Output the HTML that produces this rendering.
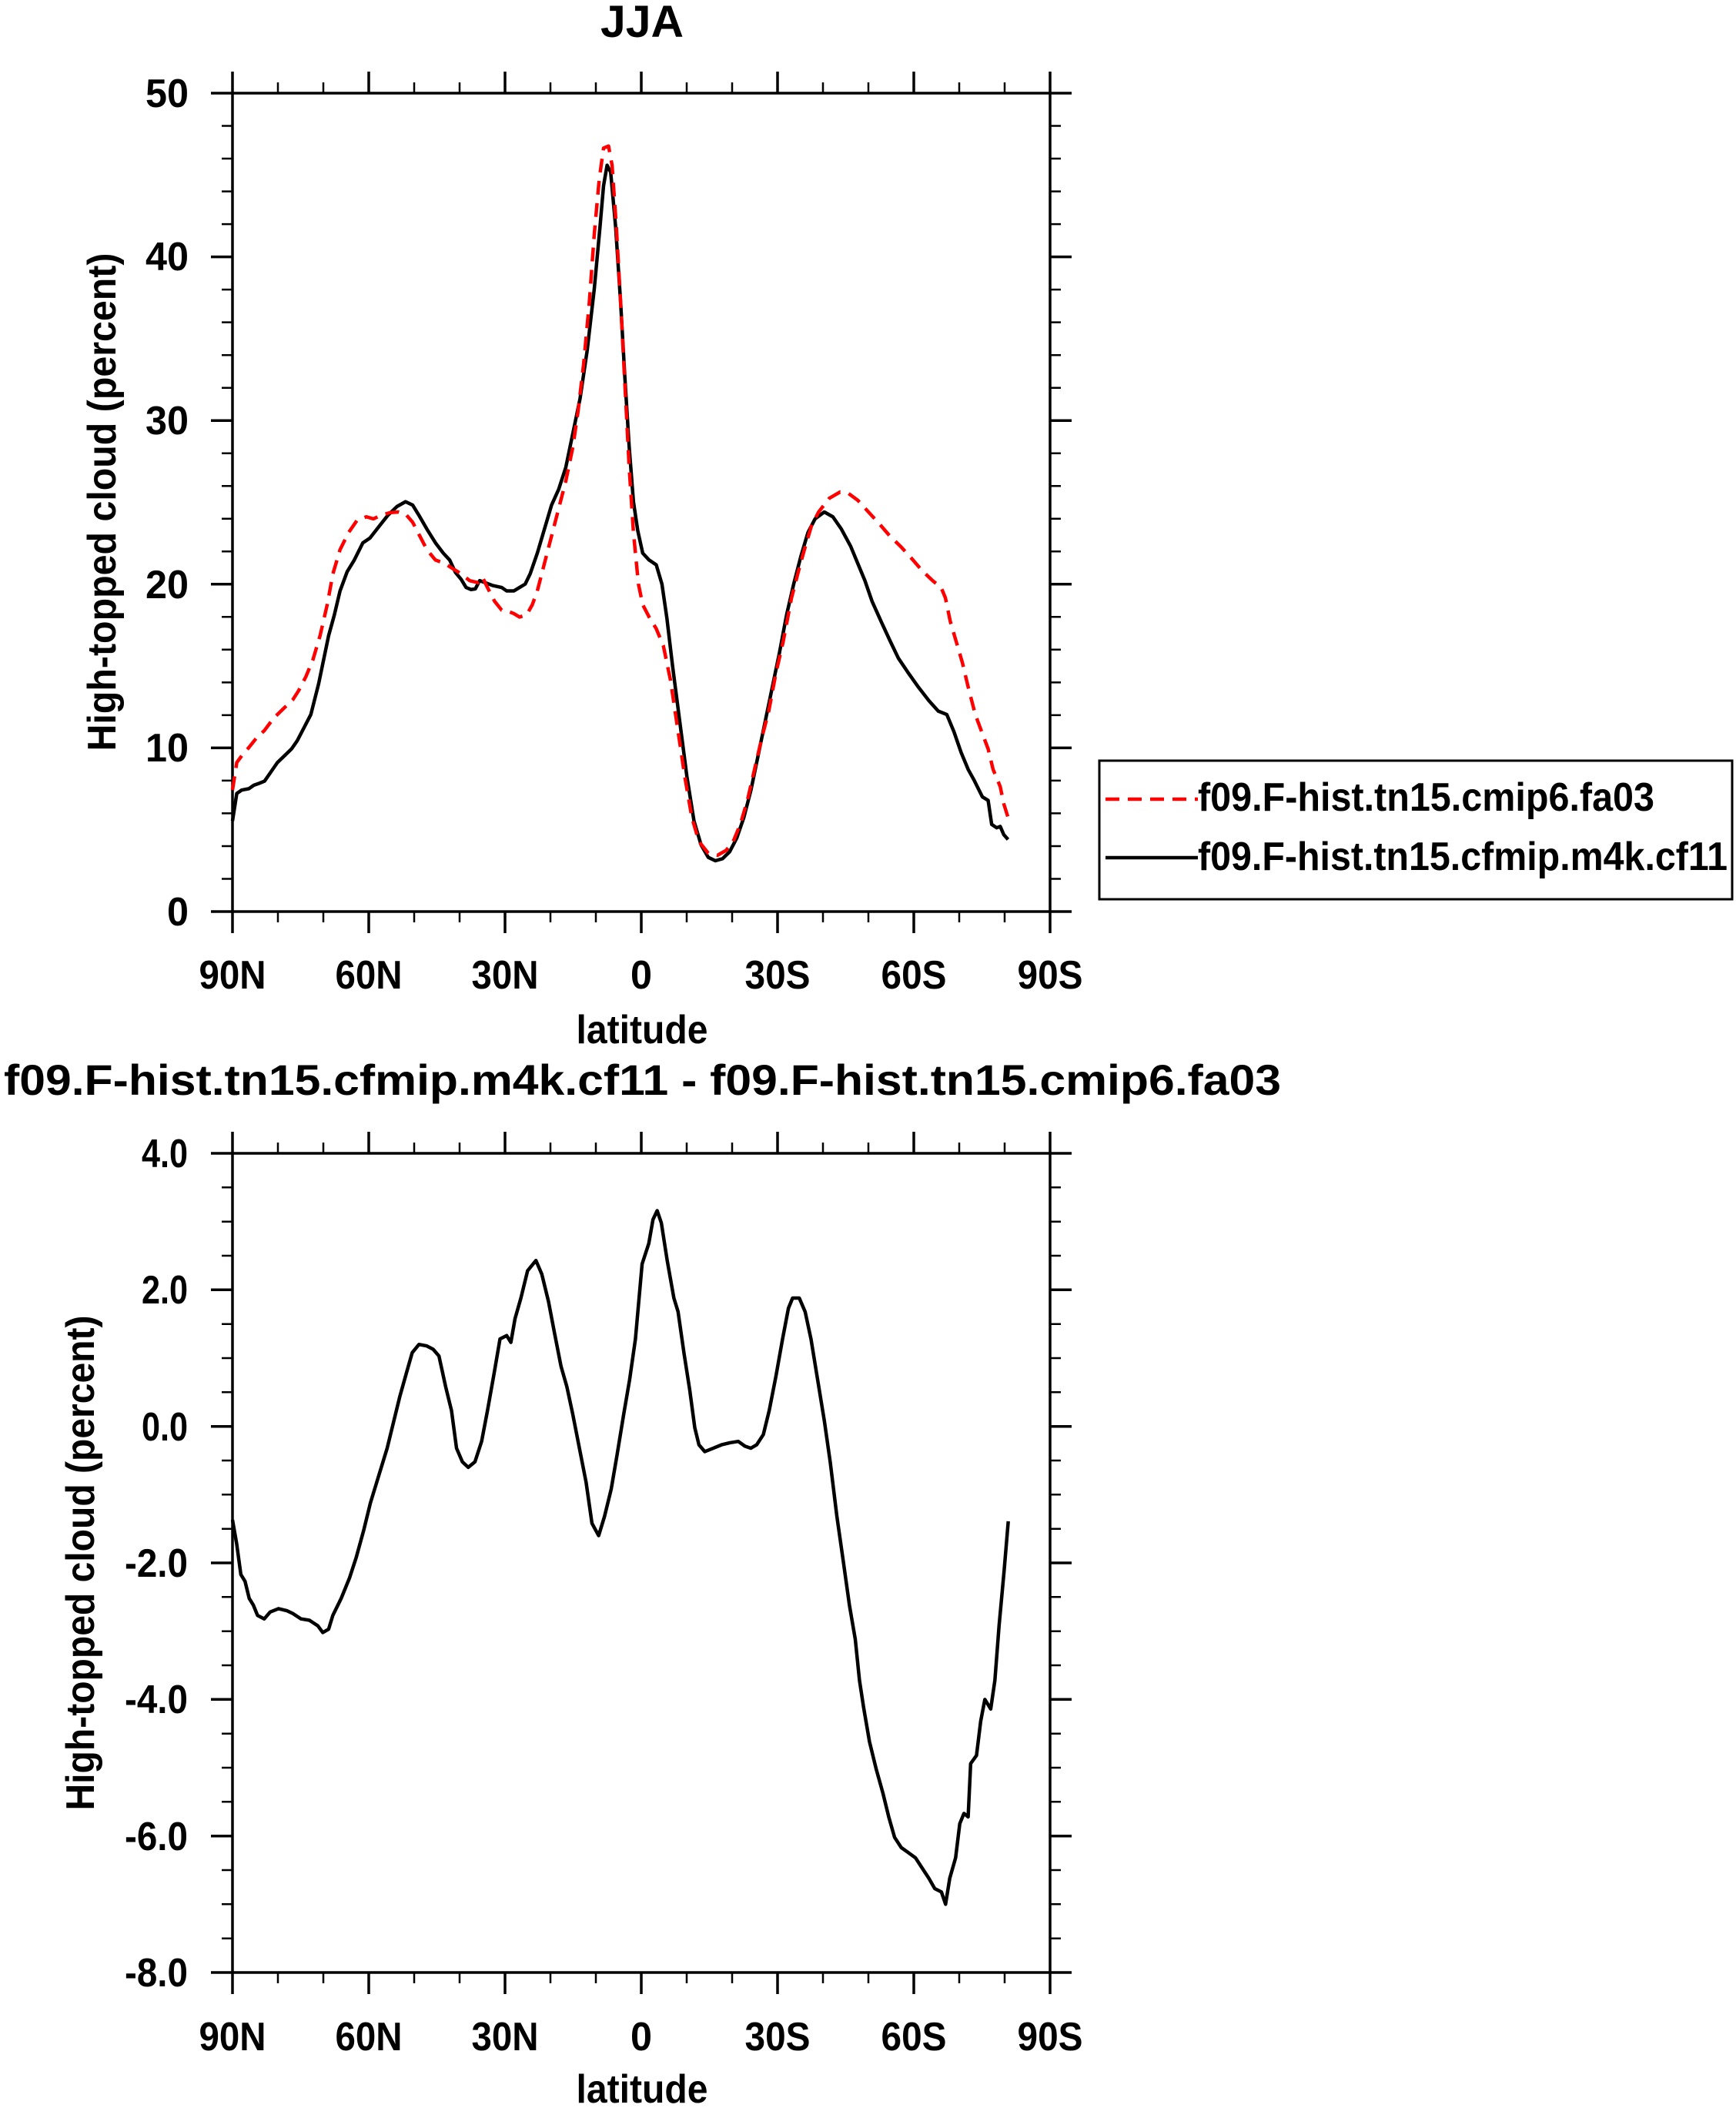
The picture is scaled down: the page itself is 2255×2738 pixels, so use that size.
<!DOCTYPE html>
<html><head><meta charset="utf-8"><style>html,body{margin:0;padding:0;background:#fff}svg{display:block}text{font-family:"Liberation Sans",sans-serif;font-weight:bold;fill:#000}</style></head>
<body>
<svg width="2255" height="2738" viewBox="0 0 2255 2738" xmlns="http://www.w3.org/2000/svg">
<text x="834" y="48" font-size="58" text-anchor="middle" textLength="108" lengthAdjust="spacingAndGlyphs">JJA</text>
<g stroke="#000" stroke-width="3.5" fill="none">
<rect x="302" y="121" width="1062" height="1063"/>
<path d="M302 1184h-28M302 971.4h-28M302 758.8h-28M302 546.2h-28M302 333.6h-28M302 121h-28M1364 1184h28M1364 971.4h28M1364 758.8h28M1364 546.2h28M1364 333.6h28M1364 121h28M302 1184v28M479 1184v28M656 1184v28M833 1184v28M1010 1184v28M1187 1184v28M1364 1184v28M302 121v-28M479 121v-28M656 121v-28M833 121v-28M1010 121v-28M1187 121v-28M1364 121v-28"/>
</g>
<g stroke="#000" stroke-width="2.5" fill="none">
<path d="M302 163.5h-14M302 206h-14M302 248.6h-14M302 291.1h-14M302 376.1h-14M302 418.6h-14M302 461.2h-14M302 503.7h-14M302 588.7h-14M302 631.2h-14M302 673.8h-14M302 716.3h-14M302 801.3h-14M302 843.8h-14M302 886.4h-14M302 928.9h-14M302 1013.9h-14M302 1056.4h-14M302 1099h-14M302 1141.5h-14"/>
<path d="M1364 163.5h14M1364 206h14M1364 248.6h14M1364 291.1h14M1364 376.1h14M1364 418.6h14M1364 461.2h14M1364 503.7h14M1364 588.7h14M1364 631.2h14M1364 673.8h14M1364 716.3h14M1364 801.3h14M1364 843.8h14M1364 886.4h14M1364 928.9h14M1364 1013.9h14M1364 1056.4h14M1364 1099h14M1364 1141.5h14"/>
<path d="M361 1184v14M420 1184v14M538 1184v14M597 1184v14M715 1184v14M774 1184v14M892 1184v14M951 1184v14M1069 1184v14M1128 1184v14M1246 1184v14M1305 1184v14M361 121v-14M420 121v-14M538 121v-14M597 121v-14M715 121v-14M774 121v-14M892 121v-14M951 121v-14M1069 121v-14M1128 121v-14M1246 121v-14M1305 121v-14"/>
</g>
<g font-size="52" text-anchor="end">
<text x="245" y="139" textLength="56" lengthAdjust="spacingAndGlyphs">50</text><text x="245" y="351" textLength="56" lengthAdjust="spacingAndGlyphs">40</text><text x="245" y="564" textLength="56" lengthAdjust="spacingAndGlyphs">30</text><text x="245" y="777" textLength="56" lengthAdjust="spacingAndGlyphs">20</text><text x="245" y="989" textLength="56" lengthAdjust="spacingAndGlyphs">10</text><text x="245" y="1202" textLength="28" lengthAdjust="spacingAndGlyphs">0</text>
</g>
<g font-size="52" text-anchor="middle">
<text x="302" y="1284" textLength="87" lengthAdjust="spacingAndGlyphs">90N</text><text x="479" y="1284" textLength="87" lengthAdjust="spacingAndGlyphs">60N</text><text x="656" y="1284" textLength="87" lengthAdjust="spacingAndGlyphs">30N</text><text x="833" y="1284" textLength="28" lengthAdjust="spacingAndGlyphs">0</text><text x="1010" y="1284" textLength="85" lengthAdjust="spacingAndGlyphs">30S</text><text x="1187" y="1284" textLength="85" lengthAdjust="spacingAndGlyphs">60S</text><text x="1364" y="1284" textLength="85" lengthAdjust="spacingAndGlyphs">90S</text>
<text x="834" y="1355" textLength="171" lengthAdjust="spacingAndGlyphs">latitude</text>
</g>
<text transform="translate(150,652) rotate(-90)" font-size="52" text-anchor="middle" textLength="647" lengthAdjust="spacingAndGlyphs">High-topped cloud (percent)</text>
<g transform="matrix(0.92509 0 0 0.89178 -0.5 0.61)" fill="none" stroke-width="4.5" stroke-linejoin="round">
<polyline vector-effect="non-scaling-stroke" stroke="#000" points="327,1195 333,1155 340,1150 350,1148 357,1143 365,1140 372,1137 380,1125 390,1110 400,1100 410,1090 418,1078 428,1058 437,1040 448,995 455,960 462,925 470,895 478,860 488,832 498,815 510,790 520,783 532,767 545,750 558,737 570,730 580,735 590,752 600,770 612,790 623,805 632,815 640,833 648,843 655,855 662,858 668,857 674,845 682,848 692,852 705,855 712,860 722,860 730,855 738,850 745,835 755,805 765,770 775,735 785,712 795,680 805,630 815,580 825,510 835,420 843,330 848,270 853,240 858,250 865,330 872,440 878,550 884,650 890,730 896,772 903,805 912,815 922,822 930,850 937,900 945,970 955,1050 965,1130 975,1195 985,1230 995,1248 1005,1253 1015,1250 1025,1240 1035,1220 1045,1190 1055,1150 1065,1100 1075,1050 1085,1000 1095,950 1105,895 1115,850 1125,810 1135,775 1145,755 1158,745 1170,752 1182,770 1195,795 1205,820 1215,845 1225,875 1238,905 1250,932 1262,958 1275,978 1290,1000 1305,1020 1318,1035 1330,1040 1340,1065 1350,1095 1360,1120 1368,1135 1380,1160 1388,1165 1393,1200 1400,1205 1405,1203 1410,1215 1416,1222"/>
<polyline vector-effect="non-scaling-stroke" stroke="#f00" stroke-dasharray="18 11" points="327,1150 333,1110 340,1100 350,1088 360,1075 372,1063 385,1045 400,1030 412,1018 420,1005 430,985 440,960 450,925 460,880 468,835 478,800 490,775 502,757 515,752 525,755 535,750 548,746 560,745 570,748 580,760 590,780 600,800 612,815 625,820 637,828 648,835 660,845 672,848 678,840 685,855 695,875 705,888 715,890 722,893 730,898 740,895 748,880 755,860 765,820 775,780 785,740 795,700 805,650 812,600 820,530 828,440 835,340 842,260 848,215 855,212 860,240 866,330 872,440 878,560 884,680 890,775 897,850 903,880 912,898 922,915 932,940 942,990 952,1060 962,1130 972,1190 982,1225 995,1242 1008,1245 1020,1238 1030,1225 1040,1200 1050,1165 1060,1120 1070,1075 1080,1035 1090,980 1100,935 1112,870 1122,830 1130,800 1140,765 1150,745 1165,725 1180,716 1192,718 1205,728 1220,745 1235,762 1250,780 1265,795 1280,812 1295,830 1310,845 1322,855 1328,870 1335,905 1345,940 1352,965 1360,1000 1370,1040 1380,1068 1388,1090 1395,1120 1405,1145 1410,1170 1416,1190"/>
</g>
<rect x="1428" y="988" width="822" height="180" fill="none" stroke="#000" stroke-width="3"/>
<line x1="1436" y1="1038" x2="1556" y2="1038" stroke="#f00" stroke-width="4.5" stroke-dasharray="18 11"/>
<line x1="1436" y1="1114" x2="1556" y2="1114" stroke="#000" stroke-width="4.5"/>
<text x="1556" y="1053" font-size="52" textLength="593" lengthAdjust="spacingAndGlyphs">f09.F-hist.tn15.cmip6.fa03</text>
<text x="1556" y="1130" font-size="52" textLength="688" lengthAdjust="spacingAndGlyphs">f09.F-hist.tn15.cfmip.m4k.cf11</text>
<text x="5" y="1422" font-size="56" textLength="1659" lengthAdjust="spacingAndGlyphs">f09.F-hist.tn15.cfmip.m4k.cf11 - f09.F-hist.tn15.cmip6.fa03</text>
<g stroke="#000" stroke-width="3.5" fill="none">
<rect x="302" y="1498" width="1062" height="1064"/>
<path d="M302 1498h-28M302 1675.3h-28M302 1852.7h-28M302 2030h-28M302 2207.3h-28M302 2384.7h-28M302 2562h-28M1364 1498h28M1364 1675.3h28M1364 1852.7h28M1364 2030h28M1364 2207.3h28M1364 2384.7h28M1364 2562h28M302 2562v28M479 2562v28M656 2562v28M833 2562v28M1010 2562v28M1187 2562v28M1364 2562v28M302 1498v-28M479 1498v-28M656 1498v-28M833 1498v-28M1010 1498v-28M1187 1498v-28M1364 1498v-28"/>
</g>
<g stroke="#000" stroke-width="2.5" fill="none">
<path d="M302 1542.3h-14M302 1586.7h-14M302 1631h-14M302 1719.7h-14M302 1764h-14M302 1808.3h-14M302 1897h-14M302 1941.3h-14M302 1985.7h-14M302 2074.3h-14M302 2118.7h-14M302 2163h-14M302 2251.7h-14M302 2296h-14M302 2340.3h-14M302 2429h-14M302 2473.3h-14M302 2517.7h-14"/>
<path d="M1364 1542.3h14M1364 1586.7h14M1364 1631h14M1364 1719.7h14M1364 1764h14M1364 1808.3h14M1364 1897h14M1364 1941.3h14M1364 1985.7h14M1364 2074.3h14M1364 2118.7h14M1364 2163h14M1364 2251.7h14M1364 2296h14M1364 2340.3h14M1364 2429h14M1364 2473.3h14M1364 2517.7h14"/>
<path d="M361 2562v14M420 2562v14M538 2562v14M597 2562v14M715 2562v14M774 2562v14M892 2562v14M951 2562v14M1069 2562v14M1128 2562v14M1246 2562v14M1305 2562v14M361 1498v-14M420 1498v-14M538 1498v-14M597 1498v-14M715 1498v-14M774 1498v-14M892 1498v-14M951 1498v-14M1069 1498v-14M1128 1498v-14M1246 1498v-14M1305 1498v-14"/>
</g>
<g font-size="52" text-anchor="end">
<text x="244" y="1516" textLength="60" lengthAdjust="spacingAndGlyphs">4.0</text><text x="244" y="1693" textLength="60" lengthAdjust="spacingAndGlyphs">2.0</text><text x="244" y="1871" textLength="60" lengthAdjust="spacingAndGlyphs">0.0</text><text x="244" y="2048" textLength="82" lengthAdjust="spacingAndGlyphs">-2.0</text><text x="244" y="2225" textLength="82" lengthAdjust="spacingAndGlyphs">-4.0</text><text x="244" y="2403" textLength="82" lengthAdjust="spacingAndGlyphs">-6.0</text><text x="244" y="2580" textLength="82" lengthAdjust="spacingAndGlyphs">-8.0</text>
</g>
<g font-size="52" text-anchor="middle">
<text x="302" y="2663" textLength="87" lengthAdjust="spacingAndGlyphs">90N</text><text x="479" y="2663" textLength="87" lengthAdjust="spacingAndGlyphs">60N</text><text x="656" y="2663" textLength="87" lengthAdjust="spacingAndGlyphs">30N</text><text x="833" y="2663" textLength="28" lengthAdjust="spacingAndGlyphs">0</text><text x="1010" y="2663" textLength="85" lengthAdjust="spacingAndGlyphs">30S</text><text x="1187" y="2663" textLength="85" lengthAdjust="spacingAndGlyphs">60S</text><text x="1364" y="2663" textLength="85" lengthAdjust="spacingAndGlyphs">90S</text>
<text x="834" y="2731" textLength="171" lengthAdjust="spacingAndGlyphs">latitude</text>
</g>
<text transform="translate(122,2030) rotate(-90)" font-size="52" text-anchor="middle" textLength="643" lengthAdjust="spacingAndGlyphs">High-topped cloud (percent)</text>
<g transform="matrix(1.08589 0 0 0.88667 -2.05 1349.04)" fill="none" stroke-width="4.5" stroke-linejoin="round">
<polyline vector-effect="non-scaling-stroke" stroke="#000" points="280,705 285,740 290,785 295,795 300,820 305,830 310,845 318,850 325,840 335,835 345,838 352,842 362,850 372,852 382,860 388,870 395,865 400,845 410,820 420,790 428,760 437,720 445,680 455,640 465,600 473,560 480,525 488,490 495,460 503,448 512,450 520,455 527,465 535,510 542,545 548,600 555,620 562,628 570,620 578,590 585,545 593,490 600,440 608,435 613,445 618,410 625,380 633,340 643,325 650,345 658,385 665,430 673,480 680,510 687,550 695,600 703,650 710,710 718,728 725,700 733,660 740,610 748,550 755,500 762,440 770,330 778,300 783,265 788,252 793,270 800,325 808,380 813,400 820,460 827,515 833,570 838,595 845,605 855,600 865,595 875,592 885,590 893,597 900,600 907,595 915,580 922,545 930,495 938,440 945,395 950,380 958,380 965,400 972,440 980,500 988,560 995,620 1003,700 1010,760 1018,830 1025,880 1030,940 1035,980 1042,1030 1050,1070 1058,1105 1065,1140 1072,1170 1080,1185 1088,1192 1097,1200 1105,1215 1113,1230 1120,1245 1128,1250 1133,1268 1138,1230 1145,1200 1150,1150 1155,1135 1160,1140 1163,1062 1170,1050 1175,1000 1180,968 1187,982 1192,940 1197,860 1203,780 1208,707"/>
</g>
</svg>
</body></html>
